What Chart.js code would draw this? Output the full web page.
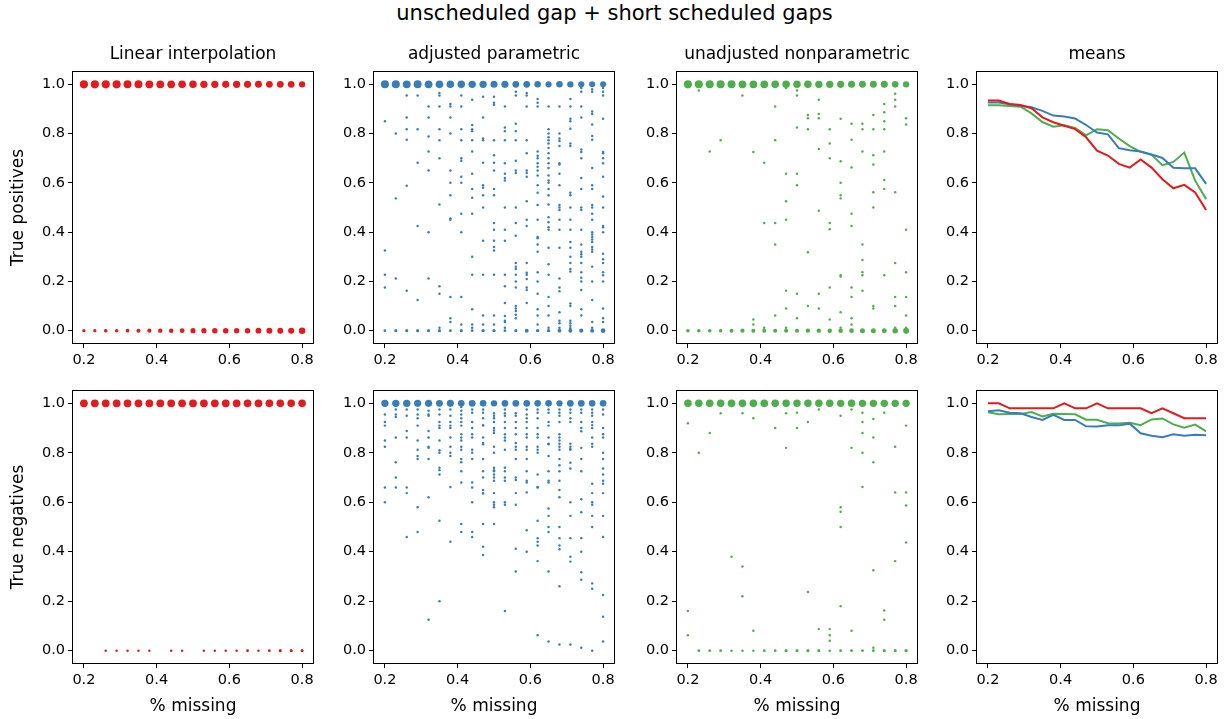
<!DOCTYPE html>
<html>
<head>
<meta charset="utf-8">
<script src="https://cdn.jsdelivr.net/npm/chart.js@4.4.1/dist/chart.umd.min.js"></script>
<style>
  body { margin: 0; background: #fff; }
  #fig { position: relative; width: 1229px; height: 719px; overflow: hidden; }
  #fig canvas { position: absolute; }
  #suptitle {
    position: absolute; left: 0; top: 1px; width: 1229px; text-align: center;
    font-family: "DejaVu Sans", sans-serif; font-size: 21px; line-height: 24px; color: #000;
  }
</style>
</head>
<body>
<div id="fig">
  <div id="suptitle">unscheduled gap + short scheduled gaps</div>
</div>
<script>
"use strict";

// ---- data ----
var missing = [0.2, 0.23, 0.26, 0.29, 0.32, 0.35, 0.38, 0.41, 0.44, 0.47, 0.5,
               0.53, 0.56, 0.59, 0.62, 0.65, 0.68, 0.71, 0.74, 0.77, 0.8];
var xTicks = [0.2, 0.4, 0.6, 0.8];
var yTicks = [0, 0.2, 0.4, 0.6, 0.8, 1.0];

var panelTitles = ['Linear interpolation', 'adjusted parametric', 'unadjusted nonparametric', 'means'];
var rowLabels = ['True positives', 'True negatives'];

// means
var meanTPLinear   = [0.934,0.934,0.92,0.916,0.903,0.866,0.846,0.832,0.818,0.785,0.731,0.711,0.677,0.662,0.695,0.662,0.615,0.578,0.592,0.561,0.49];
var meanTPAdjusted = [0.926,0.926,0.919,0.912,0.907,0.892,0.873,0.869,0.861,0.835,0.804,0.797,0.741,0.732,0.727,0.715,0.701,0.661,0.659,0.659,0.596];
var meanTPNonpar   = [0.915,0.915,0.912,0.909,0.882,0.847,0.828,0.834,0.823,0.793,0.818,0.814,0.78,0.749,0.726,0.714,0.672,0.685,0.723,0.609,0.534];
var meanTNLinear   = [1.0,1.0,0.98,0.98,0.98,0.98,0.98,1.0,0.98,0.98,1.0,0.98,0.98,0.98,0.98,0.96,0.98,0.96,0.94,0.94,0.94];
var meanTNAdjusted = [0.968,0.972,0.962,0.96,0.945,0.933,0.954,0.933,0.933,0.907,0.906,0.911,0.911,0.918,0.879,0.869,0.863,0.875,0.869,0.873,0.871];
var meanTNNonpar   = [0.964,0.956,0.957,0.957,0.965,0.947,0.958,0.957,0.956,0.934,0.934,0.92,0.919,0.922,0.912,0.935,0.939,0.915,0.902,0.914,0.887];

// how many runs landed exactly on 1.0 and on 0.0
var linTPOnes  = [56,56,55,55,54,52,51,50,49,47,44,43,41,40,42,40,37,35,36,34,29];
var linTPZeros = [4,4,5,5,6,8,9,10,11,13,16,17,19,20,18,20,23,25,24,26,31];
var linTNOnes  = [50,50,49,49,49,49,49,50,49,49,50,49,49,49,49,48,49,48,47,47,47];
var linTNZeros = [0,0,1,1,1,1,1,0,1,1,0,1,1,1,1,2,1,2,3,3,3];
var adjTPOnes  = [54,54,51,52,50,47,46,45,43,43,39,40,35,35,32,28,32,29,28,26,25];
var adjTPZeros = [2,3,3,3,3,3,2,3,2,4,4,2,3,7,4,4,6,7,9,7,12];
var adjTNOnes  = [42,43,43,40,40,37,39,33,36,33,30,34,35,34,32,33,28,34,35,32,33];
var adjTNZeros = [0,0,0,0,0,0,0,0,0,0,0,0,0,0,0,0,0,0,0,0,0];
var npTPOnes   = [55,54,54,54,53,50,49,49,47,45,45,46,43,42,39,39,37,37,38,33,29];
var npTPZeros  = [5,5,5,5,7,9,8,8,8,8,8,9,10,11,11,12,15,15,14,19,24];
var npTNOnes   = [47,47,47,47,48,46,47,48,47,45,45,45,45,46,43,45,43,43,44,44,42];
var npTNZeros  = [0,2,2,2,1,1,1,2,2,3,3,3,3,1,2,2,2,2,3,3,4];

// single runs in between, one list per % missing
var adjTPOther = [
  [0.85,0.325,0.227,0.175],
  [0.8,0.537,0.212],
  [0.955,0.865,0.818,0.775,0.588,0.162],
  [0.955,0.818,0.682,0.425,0.125],
  [0.91,0.865,0.788,0.727,0.65,0.4,0.212],
  [0.965,0.955,0.91,0.818,0.773,0.7,0.512,0.18,0.15,0.012],
  [0.92,0.91,0.865,0.8,0.65,0.6,0.55,0.455,0.45,0.137,0.05,0.035],
  [0.955,0.91,0.818,0.773,0.7,0.69,0.625,0.6,0.475,0.4,0.137,0.025],
  [0.937,0.835,0.818,0.81,0.773,0.727,0.637,0.575,0.54,0.475,0.3,0.227,0.087,0.025,0.012],
  [0.95,0.865,0.78,0.773,0.682,0.59,0.58,0.55,0.5,0.365,0.227,0.062,0.025],
  [0.95,0.925,0.917,0.773,0.712,0.682,0.65,0.575,0.55,0.437,0.41,0.365,0.34,0.325,0.227,0.062,0.025],
  [0.91,0.825,0.81,0.773,0.68,0.637,0.62,0.61,0.5,0.41,0.365,0.227,0.18,0.112,0.06,0.04,0.035,0.012],
  [0.97,0.955,0.84,0.81,0.773,0.69,0.65,0.64,0.5,0.437,0.385,0.275,0.26,0.25,0.227,0.2,0.175,0.1,0.09,0.08,0.065,0.05],
  [0.965,0.955,0.91,0.773,0.72,0.65,0.64,0.625,0.525,0.45,0.425,0.275,0.235,0.227,0.21,0.175,0.165,0.112],
  [0.94,0.925,0.91,0.727,0.71,0.7,0.68,0.665,0.65,0.63,0.59,0.56,0.51,0.45,0.38,0.375,0.35,0.32,0.237,0.2,0.15,0.087,0.062,0.025],
  [0.91,0.818,0.8,0.785,0.773,0.76,0.742,0.72,0.7,0.68,0.66,0.63,0.61,0.6,0.575,0.55,0.512,0.46,0.44,0.42,0.41,0.337,0.27,0.227,0.137,0.1,0.062,0.012],
  [0.91,0.8,0.78,0.77,0.75,0.68,0.675,0.637,0.59,0.51,0.5,0.49,0.45,0.41,0.337,0.212,0.175,0.16,0.075,0.04,0.03,0.012],
  [0.94,0.91,0.86,0.85,0.82,0.76,0.75,0.56,0.55,0.5,0.45,0.41,0.36,0.337,0.3,0.275,0.25,0.24,0.11,0.1,0.04,0.03,0.02,0.01],
  [0.985,0.97,0.91,0.865,0.735,0.725,0.7,0.62,0.575,0.5,0.49,0.41,0.35,0.32,0.31,0.3,0.275,0.237,0.215,0.2,0.165,0.087,0.062],
  [0.98,0.97,0.89,0.88,0.837,0.79,0.775,0.66,0.59,0.575,0.51,0.5,0.475,0.45,0.4,0.39,0.38,0.37,0.36,0.34,0.33,0.32,0.26,0.2,0.125,0.035,0.012],
  [0.985,0.97,0.955,0.86,0.725,0.72,0.7,0.68,0.625,0.545,0.5,0.425,0.42,0.4,0.312,0.29,0.275,0.237,0.225,0.2,0.09,0.05,0.035]
];
var adjTNOther = [
  [0.955,0.925,0.91,0.85,0.825,0.66,0.6],
  [0.975,0.955,0.945,0.862,0.762,0.7,0.66],
  [0.975,0.95,0.888,0.862,0.66,0.637,0.46],
  [0.975,0.955,0.94,0.91,0.85,0.812,0.787,0.775,0.58,0.48],
  [0.97,0.955,0.95,0.888,0.862,0.825,0.82,0.775,0.62,0.125],
  [0.975,0.955,0.925,0.91,0.9,0.85,0.81,0.8,0.74,0.73,0.712,0.525,0.2],
  [0.975,0.95,0.925,0.91,0.9,0.862,0.825,0.8,0.787,0.662,0.44],
  [0.985,0.97,0.955,0.94,0.925,0.91,0.875,0.862,0.85,0.825,0.812,0.775,0.762,0.725,0.68,0.512,0.48],
  [0.975,0.962,0.925,0.9,0.875,0.862,0.812,0.8,0.775,0.68,0.66,0.6,0.48,0.46],
  [0.975,0.962,0.94,0.912,0.91,0.862,0.84,0.835,0.775,0.725,0.7,0.65,0.637,0.635,0.512,0.42,0.387],
  [0.96,0.95,0.94,0.925,0.9,0.89,0.88,0.825,0.8,0.74,0.73,0.725,0.712,0.7,0.687,0.637,0.6,0.59,0.58,0.512],
  [0.975,0.96,0.95,0.925,0.9,0.875,0.862,0.85,0.812,0.74,0.725,0.7,0.687,0.6,0.59,0.16],
  [0.96,0.95,0.925,0.9,0.875,0.84,0.825,0.812,0.775,0.7,0.69,0.637,0.59,0.412,0.32],
  [0.975,0.955,0.94,0.925,0.9,0.875,0.862,0.825,0.812,0.775,0.725,0.687,0.68,0.64,0.487,0.4],
  [0.975,0.962,0.94,0.9,0.875,0.862,0.825,0.812,0.8,0.712,0.662,0.66,0.525,0.455,0.44,0.425,0.362,0.062],
  [0.975,0.962,0.925,0.91,0.862,0.837,0.835,0.787,0.725,0.687,0.68,0.575,0.545,0.5,0.48,0.32,0.037],
  [0.975,0.962,0.95,0.925,0.875,0.862,0.85,0.837,0.825,0.812,0.775,0.75,0.725,0.687,0.65,0.62,0.5,0.455,0.425,0.41,0.26,0.025],
  [0.975,0.962,0.94,0.925,0.837,0.825,0.815,0.812,0.76,0.737,0.6,0.545,0.455,0.38,0.36,0.025],
  [0.975,0.962,0.925,0.9,0.887,0.82,0.775,0.725,0.612,0.56,0.455,0.4,0.317,0.287,0.012],
  [0.975,0.962,0.95,0.925,0.912,0.9,0.862,0.837,0.825,0.675,0.637,0.6,0.59,0.545,0.5,0.272,0.25,0.0],
  [0.975,0.955,0.9,0.875,0.862,0.8,0.775,0.737,0.712,0.687,0.675,0.637,0.545,0.46,0.225,0.137,0.037]
];
var npTPOther = [
  [],
  [0.975],
  [0.727],
  [0.773],
  [],
  [0.955],
  [0.725,0.045,0.025],
  [0.682,0.437,0.012],
  [0.91,0.773,0.437,0.35,0.062],
  [0.985,0.637,0.525,0.45,0.162,0.09,0.012],
  [0.975,0.955,0.825,0.637,0.59,0.15,0.05],
  [0.875,0.862,0.818,0.318,0.1],
  [0.937,0.88,0.862,0.737,0.487,0.15,0.09],
  [0.818,0.76,0.7,0.437,0.412,0.175,0.045],
  [0.99,0.86,0.688,0.6,0.55,0.537,0.225,0.22,0.075,0.012],
  [0.84,0.775,0.662,0.475,0.425,0.175,0.137,0.05,0.025],
  [0.84,0.818,0.727,0.35,0.287,0.237,0.225,0.162],
  [0.875,0.818,0.712,0.675,0.562,0.5,0.1,0.09],
  [0.92,0.887,0.85,0.818,0.727,0.612,0.575,0.225],
  [0.962,0.937,0.91,0.562,0.275,0.137,0.1,0.012],
  [0.862,0.837,0.41,0.237,0.137,0.062,0.012]
];
var npTNOther = [
  [0.92,0.16,0.062],
  [0.8],
  [0.88],
  [0.96],
  [0.38],
  [0.96,0.34,0.22],
  [0.94,0.08],
  [],
  [0.9],
  [0.96,0.82],
  [0.962,0.9],
  [0.925,0.237],
  [0.975,0.087],
  [0.087,0.062,0.04],
  [0.95,0.58,0.562,0.5,0.18],
  [0.975,0.82,0.08],
  [0.962,0.925,0.88,0.8,0.662],
  [0.937,0.862,0.762,0.325,0.012],
  [0.962,0.162,0.125],
  [0.825,0.64,0.362],
  [0.91,0.64,0.587,0.437]
];

// ---- styling / layout ----
var RED = '#e41a1c', BLUE = '#377eb8', GREEN = '#4daf4a';
var FONT = 'DejaVu Sans';
var BOX_LEFT = [73, 374, 677, 977];
var BOX_W = 240;
var ROWS = [{ top: 72, h: 271, xAxisH: 30 }, { top: 391, h: 272, xAxisH: 56 }];
var TITLE_H = 28;
var RIGHT_PAD = 10;

function dotRadius(n) {
  return 0.44 * Math.sqrt(n) + 0.8;
}

function scatterPoints(ones, zeros, others) {
  var pts = [];
  missing.forEach(function(x, i) {
    if (ones[i] > 0) pts.push({ x: x, y: 1, n: ones[i] });
    (others ? others[i] : []).forEach(function(v) { pts.push({ x: x, y: v, n: 1 }); });
    if (zeros[i] > 0) pts.push({ x: x, y: 0, n: zeros[i] });
  });
  return pts;
}

function linePoints(arr) {
  return missing.map(function(x, i) { return { x: x, y: arr[i] }; });
}

function dotSet(pts, color) {
  return {
    data: pts,
    backgroundColor: color,
    borderWidth: 0,
    pointBorderWidth: 0,
    pointRadius: function(ctx) { return ctx.raw ? dotRadius(ctx.raw.n) : 0; },
    pointHoverRadius: function(ctx) { return ctx.raw ? dotRadius(ctx.raw.n) : 0; },
    showLine: false
  };
}

function lineSet(arr, color) {
  return {
    data: linePoints(arr),
    borderColor: color,
    backgroundColor: color,
    borderWidth: 2,
    pointRadius: 0,
    showLine: true,
    tension: 0,
    fill: false
  };
}

var framePlugin = {
  id: 'frame',
  afterDraw: function(chart) {
    var a = chart.chartArea, c = chart.ctx;
    var l = Math.round(a.left) - 0.5, t = Math.round(a.top) - 0.5;
    var r = Math.round(a.right) + 0.5, b = Math.round(a.bottom) + 0.5;
    c.save();
    c.strokeStyle = '#000';
    c.lineWidth = 1;
    c.strokeRect(l, t, r - l, b - t);
    c.restore();
  }
};

var panels = [
  [
    [dotSet(scatterPoints(linTPOnes, linTPZeros, null), RED)],
    [dotSet(scatterPoints(adjTPOnes, adjTPZeros, adjTPOther), BLUE)],
    [dotSet(scatterPoints(npTPOnes, npTPZeros, npTPOther), GREEN)],
    [lineSet(meanTPLinear, RED), lineSet(meanTPAdjusted, BLUE), lineSet(meanTPNonpar, GREEN)]
  ],
  [
    [dotSet(scatterPoints(linTNOnes, linTNZeros, null), RED)],
    [dotSet(scatterPoints(adjTNOnes, adjTNZeros, adjTNOther), BLUE)],
    [dotSet(scatterPoints(npTNOnes, npTNZeros, npTNOther), GREEN)],
    [lineSet(meanTNLinear, RED), lineSet(meanTNAdjusted, BLUE), lineSet(meanTNNonpar, GREEN)]
  ]
];

var fig = document.getElementById('fig');

panels.forEach(function(row, r) {
  var geo = ROWS[r];
  row.forEach(function(datasets, c) {
    var yW = c === 0 ? 73 : 60;
    var w = yW + BOX_W + RIGHT_PAD;
    var h = TITLE_H + geo.h + geo.xAxisH;
    var canvas = document.createElement('canvas');
    canvas.width = w;
    canvas.height = h;
    canvas.style.left = (BOX_LEFT[c] - yW) + 'px';
    canvas.style.top = (geo.top - TITLE_H) + 'px';
    canvas.style.width = w + 'px';
    canvas.style.height = h + 'px';
    fig.appendChild(canvas);

    var tickFont = { family: FONT, size: 14.5 };
    var labelFont = { family: FONT, size: 17 };
    var grid = {
      drawOnChartArea: false, drawTicks: true, tickLength: 5,
      color: '#000', tickColor: '#000', tickWidth: 1
    };

    new Chart(canvas.getContext('2d'), {
      type: 'scatter',
      data: { datasets: datasets },
      options: {
        responsive: false,
        animation: false,
        devicePixelRatio: 1,
        layout: {
          autoPadding: false,
          padding: { left: 0, right: RIGHT_PAD, top: r === 0 ? 0 : TITLE_H, bottom: 0 }
        },
        plugins: {
          legend: { display: false },
          tooltip: { enabled: false },
          title: {
            display: r === 0,
            fullSize: false,
            align: 'center',
            text: panelTitles[c],
            color: '#000',
            font: { family: FONT, size: 17, weight: 'normal' },
            padding: { top: 0.6, bottom: 7 }
          }
        },
        scales: {
          x: {
            type: 'linear',
            min: 0.17,
            max: 0.83,
            afterBuildTicks: function(s) { s.ticks = xTicks.map(function(v) { return { value: v }; }); },
            afterFit: function(s) { s.height = geo.xAxisH; },
            ticks: {
              color: '#000', font: tickFont, padding: 4, maxRotation: 0, autoSkip: false,
              callback: function(v) { return v.toFixed(1); }
            },
            grid: grid,
            border: { display: false },
            title: {
              display: r === 1,
              text: '% missing',
              color: '#000',
              font: labelFont,
              padding: { top: 0, bottom: 2 }
            }
          },
          y: {
            type: 'linear',
            min: -0.05,
            max: 1.05,
            afterBuildTicks: function(s) { s.ticks = yTicks.map(function(v) { return { value: v }; }); },
            afterFit: function(s) { s.width = yW; },
            ticks: {
              color: '#000', font: tickFont, padding: 3, autoSkip: false,
              callback: function(v) { return v.toFixed(1); }
            },
            grid: grid,
            border: { display: false },
            title: {
              display: c === 0,
              text: rowLabels[r],
              color: '#000',
              font: labelFont,
              padding: { top: 8, bottom: 0 }
            }
          }
        }
      },
      plugins: [framePlugin]
    });
  });
});
</script>
</body>
</html>
